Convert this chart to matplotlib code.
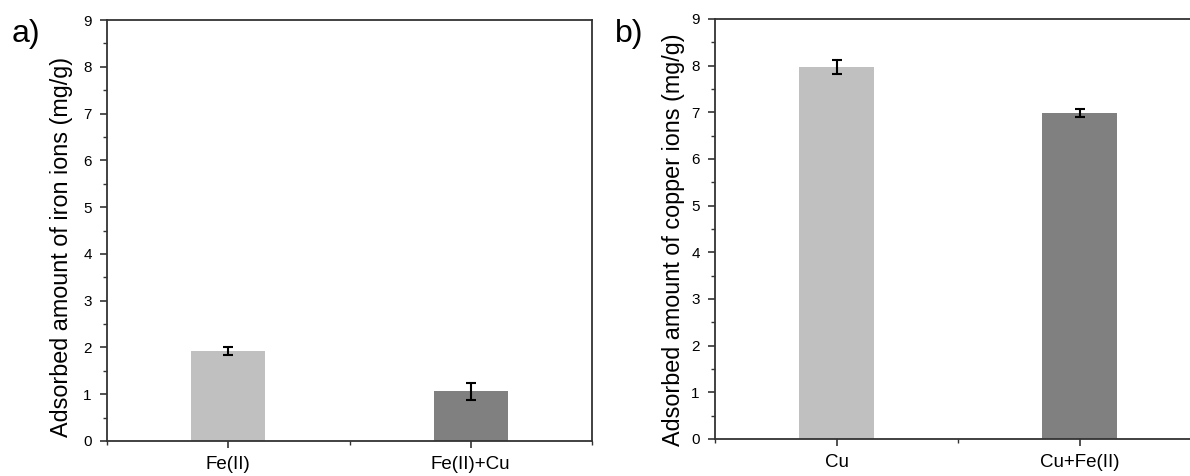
import numpy as np
import matplotlib
matplotlib.use('Agg')
import matplotlib.pyplot as plt
from matplotlib.ticker import MultipleLocator

plt.rcParams['font.family'] = ['Liberation Sans', 'DejaVu Sans']

# panel a - iron
iron_labels = ['Fe(II)', 'Fe(II)+Cu']
iron_values = [1.92, 1.06]
iron_err = [0.08, 0.19]

# panel b - copper
copper_labels = ['Cu', 'Cu+Fe(II)']
copper_values = [7.98, 6.99]
copper_err = [0.15, 0.08]

bar_colors = ['#c0c0c0', '#808080']
spine_col = '#333333'

fig = plt.figure(figsize=(11.9, 4.76), dpi=100)
ax_a = fig.add_axes([107/1190, 1-441/476, (592-107)/1190, (441-20)/476])
ax_b = fig.add_axes([715/1190, 1-439/476, (1201-715)/1190, (439-19)/476])

def draw_panel(ax, labels, values, errs, ylabel, lab_xy):
    x = np.arange(1, len(labels)+1)
    ax.bar(x, values, width=0.305, color=bar_colors, zorder=2)
    ax.errorbar(x, values, yerr=errs, fmt='none', ecolor='black',
                elinewidth=1.5, capsize=3.5, capthick=1.5, zorder=3)
    ax.set_xlim(0.5, 2.5)
    ax.set_ylim(0, 9)
    ax.set_xticks(x)
    ax.set_xticklabels(labels)
    ax.xaxis.set_minor_locator(MultipleLocator(0.5))
    ax.yaxis.set_major_locator(MultipleLocator(1))
    ax.yaxis.set_minor_locator(MultipleLocator(0.5))
    ax.tick_params(axis='both', which='major', direction='out', length=5,
                   width=1.2, color=spine_col, labelsize=11, pad=6)
    ax.tick_params(axis='both', which='minor', direction='out', length=3,
                   width=1, color=spine_col)
    ax.tick_params(axis='x', which='major', labelsize=13.5, pad=6)
    for s in ax.spines.values():
        s.set_color(spine_col)
        s.set_linewidth(1.3)
    ax.set_ylabel(ylabel, fontsize=16.8)
    ax.yaxis.set_label_coords(*lab_xy)

draw_panel(ax_a, iron_labels, iron_values, iron_err,
           'Adsorbed amount of iron ions (mg/g)', (-0.070, 0.46))
draw_panel(ax_b, copper_labels, copper_values, copper_err,
           'Adsorbed amount of copper ions (mg/g)', (-0.062, 0.474))

fig.text(12/1190, 1-34/476, 'a)', fontsize=23, va='center', ha='left')
fig.text(615/1190, 1-34/476, 'b)', fontsize=23, va='center', ha='left')

fig.savefig('out.png', dpi=100)
